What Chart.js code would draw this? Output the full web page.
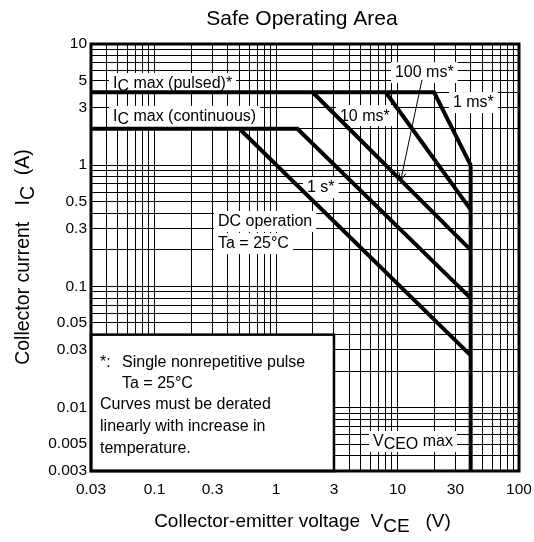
<!DOCTYPE html>
<html><head><meta charset="utf-8">
<script src="https://cdn.jsdelivr.net/npm/chart.js@4/dist/chart.umd.min.js"></script>
<style>html,body{margin:0;padding:0;background:#fff;}#wrap{width:534px;height:542px;}</style>
</head><body><div id="wrap"><canvas id="c" width="534" height="542"></canvas></div>
<script>
// ---- grid / tick values ----
const xGrid = [0.03,0.04,0.05,0.06,0.07,0.08,0.09,0.1,0.2,0.3,0.4,0.5,0.6,0.7,0.8,0.9,1,2,3,4,5,6,7,8,9,10,20,30,40,50,60,70,80,90,100];
const yGrid = [0.003,0.004,0.005,0.006,0.007,0.008,0.009,0.01,0.02,0.03,0.04,0.05,0.06,0.07,0.08,0.09,0.1,0.2,0.3,0.4,0.5,0.6,0.7,0.8,0.9,1,2,3,4,5,6,7,8,9,10];
const xTickLabels = [0.03,0.1,0.3,1,3,10,30,100];
const yTickLabels = [0.003,0.005,0.01,0.03,0.05,0.1,0.3,0.5,1,3,5,10];

// ---- SOA curves (VCE in V, IC in A) ----
const env1msV = [0.03, 20, 40, 40];      // Ic pulsed -> 1 ms -> VCEO max
const env1msA = [4, 4, 1, 0.003];
const p10msV = [8, 40];
const p10msA = [4, 0.43];
const p100msV = [2, 40];
const p100msA = [4, 0.2];
const cont1sV = [0.03, 1.5, 40];         // Ic continuous -> 1 s
const cont1sA = [2, 2, 0.08];
const dcV = [0.5, 40];
const dcA = [2, 0.027];

// ---- annotations (anchored in data coords: left edge, vertical centre) ----
const labels = [
  {segs:[['I'],['C',1],[' max (pulsed)*']], v:0.0455, a:4.77},
  {segs:[['I'],['C',1],[' max (continuous)']], v:0.0455, a:2.55},
  {segs:[['100 ms*']], v:9.53, a:5.87},
  {segs:[['1 ms*']], v:28.6, a:3.32},
  {segs:[['10 ms*']], v:3.36, a:2.59},
  {segs:[['1 s*']], v:1.80, a:0.66},
  {segs:[['DC operation']], v:0.333, a:0.347},
  {segs:[['Ta = 25°C']], v:0.333, a:0.228},
  {segs:[['V'],['CEO',1],[' max']], v:6.28, a:0.0053}
];
const arrowFrom = {v:15.9, a:5.06};
const arrowTo = {v:10.6, a:0.74};
const noteBox = {v1:0.03, v2:3, a1:0.003, a2:0.04};
const noteLines = [
  {t:'*:', v:0.0356, a:0.0242},
  {t:'Single nonrepetitive pulse', v:0.054, a:0.0242},
  {t:'Ta = 25°C', v:0.054, a:0.01596},
  {t:'Curves must be derated', v:0.0356, a:0.01071},
  {t:'linearly with increase in', v:0.0356, a:0.00705},
  {t:'temperature.', v:0.0356, a:0.00464}
];

const FONT = '"Liberation Sans", Arial, Helvetica, sans-serif';
const pts = (xs, ys) => xs.map((x, i) => ({x, y: ys[i]}));
const ds = (xs, ys) => ({data: pts(xs, ys), borderColor:'#000', borderWidth:4, pointRadius:0,
  showLine:true, fill:false, borderJoinStyle:'miter', borderCapStyle:'butt', tension:0});

function segW(ctx, segs){ return segs.reduce((w, s) => w + ctx.measureText(s[0]).width, 0); }
function drawSegs(ctx, segs, x, y, dy){
  let cx = x;
  for (const s of segs){ ctx.fillText(s[0], cx, y + (s[1] ? dy : 0)); cx += ctx.measureText(s[0]).width; }
}

const soaPlugin = {
  id:'soa',
  beforeDatasetsDraw(chart){
    const ctx = chart.ctx, xs = chart.scales.x, ys = chart.scales.y;
    ctx.save();
    ctx.font = '16px ' + FONT;
    ctx.fillStyle = '#fff';
    for (const L of labels){
      const px = xs.getPixelForValue(L.v), py = ys.getPixelForValue(L.a);
      const w = segW(ctx, L.segs);
      ctx.fillRect(px - 4, py - 10, w + 8, 21);
    }
    // note box
    const bx1 = xs.getPixelForValue(noteBox.v1), bx2 = xs.getPixelForValue(noteBox.v2);
    const by1 = ys.getPixelForValue(noteBox.a2), by2 = ys.getPixelForValue(noteBox.a1);
    ctx.fillRect(bx1, by1, bx2 - bx1, by2 - by1);
    ctx.strokeStyle = '#000'; ctx.lineWidth = 2.5;
    ctx.strokeRect(bx1, by1, bx2 - bx1, by2 - by1);
    ctx.restore();
  },
  afterDatasetsDraw(chart){
    const ctx = chart.ctx, xs = chart.scales.x, ys = chart.scales.y, ca = chart.chartArea;
    ctx.save();
    // plot frame
    ctx.strokeStyle = '#000'; ctx.lineWidth = 3;
    ctx.strokeRect(ca.left, ca.top, ca.right - ca.left, ca.bottom - ca.top);
    // labels
    ctx.fillStyle = '#000';
    ctx.font = '16px ' + FONT;
    ctx.textBaseline = 'middle'; ctx.textAlign = 'left';
    for (const L of labels){
      drawSegs(ctx, L.segs, xs.getPixelForValue(L.v), ys.getPixelForValue(L.a) + 1, 3);
    }
    for (const N of noteLines){
      ctx.fillText(N.t, xs.getPixelForValue(N.v), ys.getPixelForValue(N.a) + 1);
    }
    // arrow
    const x1 = xs.getPixelForValue(arrowFrom.v), y1 = ys.getPixelForValue(arrowFrom.a);
    const x2 = xs.getPixelForValue(arrowTo.v), y2 = ys.getPixelForValue(arrowTo.a);
    ctx.strokeStyle = '#000'; ctx.lineWidth = 1;
    ctx.beginPath(); ctx.moveTo(x1, y1); ctx.lineTo(x2, y2); ctx.stroke();
    const ang = Math.atan2(y2 - y1, x2 - x1), hl = 9;
    ctx.beginPath();
    ctx.moveTo(x2 - hl*Math.cos(ang - 0.4), y2 - hl*Math.sin(ang - 0.4));
    ctx.lineTo(x2, y2);
    ctx.lineTo(x2 - hl*Math.cos(ang + 0.4), y2 - hl*Math.sin(ang + 0.4));
    ctx.stroke();
    // titles
    ctx.textBaseline = 'alphabetic';
    ctx.font = '21px ' + FONT;
    ctx.textAlign = 'center';
    ctx.fillText('Safe Operating Area', 302, 25);
    ctx.textAlign = 'left';
    ctx.font = '19px ' + FONT;
    const xtSegs = [['Collector-emitter voltage  '],['V'],['CE',1],['   (V)']];
    const wx = segW(ctx, xtSegs);
    drawSegs(ctx, xtSegs, 302.5 - wx/2, 527, 5);
    ctx.font = '19.5px ' + FONT;
    const ytSegs = [['Collector current   '],['I'],['C',1],['  (A)']];
    const wy = segW(ctx, ytSegs);
    ctx.translate(29, 257);
    ctx.rotate(-Math.PI/2);
    drawSegs(ctx, ytSegs, -wy/2, 0, 5);
    ctx.restore();
  }
};

new Chart(document.getElementById('c'), {
  type:'scatter',
  data:{datasets:[ds(env1msV, env1msA), ds(p10msV, p10msA), ds(p100msV, p100msA), ds(cont1sV, cont1sA), ds(dcV, dcA)]},
  options:{
    responsive:false, animation:false, devicePixelRatio:1,
    layout:{padding:{top:44, right:15, left:0, bottom:0}},
    plugins:{legend:{display:false}, tooltip:{enabled:false}, title:{display:false}},
    scales:{
      x:{type:'logarithmic', min:0.03, max:100,
        afterBuildTicks:s => { s.ticks = xGrid.map(v => ({value:v})); },
        afterFit:s => { s.height = 71; s.paddingLeft = 0; s.paddingRight = 0; },
        grid:{color:'#000', lineWidth:1, drawTicks:false},
        border:{display:false},
        ticks:{autoSkip:false, maxRotation:0, minRotation:0, padding:9, color:'#000',
          font:{family:FONT, size:15.5},
          callback:v => xTickLabels.includes(v) ? String(v) : ''}},
      y:{type:'logarithmic', min:0.003, max:10,
        afterBuildTicks:s => { s.ticks = yGrid.map(v => ({value:v})); },
        afterFit:s => { s.width = 91; s.paddingTop = 0; s.paddingBottom = 0; },
        grid:{color:'#000', lineWidth:1, drawTicks:false},
        border:{display:false},
        ticks:{autoSkip:false, padding:4, color:'#000',
          font:{family:FONT, size:15.5},
          callback:v => yTickLabels.includes(v) ? String(v) : ''}}
    }
  },
  plugins:[soaPlugin]
});
</script></body></html>
